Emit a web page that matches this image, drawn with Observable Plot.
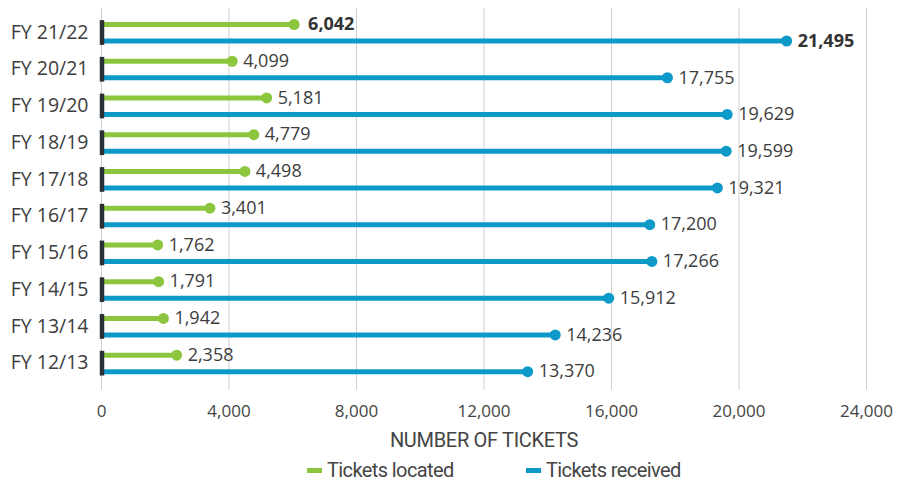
<!DOCTYPE html>
<html>
<head>
<meta charset="utf-8">
<script src="https://cdn.jsdelivr.net/npm/d3@7"></script>
<script src="https://cdn.jsdelivr.net/npm/@observablehq/plot@0.6"></script>
<style>
  body { margin: 0; background: #fff; }
  #chart svg { display: block; }
  .legend { position: relative; height: 30px; width: 902px; font-family: Roboto, sans-serif; letter-spacing: -0.6px; font-size: 20px; color: #454545; }
  .legend .item { position: absolute; top: 3px; display: flex; align-items: center; }
  .legend .sw { width: 15px; height: 5px; margin-right: 5px; }
</style>
</head>
<body>
<div id="chart"></div>
<script>
const years = ["FY 21/22","FY 20/21","FY 19/20","FY 18/19","FY 17/18","FY 16/17","FY 15/16","FY 14/15","FY 13/14","FY 12/13"];
const located = [6042,4099,5181,4779,4498,3401,1762,1791,1942,2358];
const received = [21495,17755,19629,19599,19321,17200,17266,15912,14236,13370];
const xTicks = [0,4000,8000,12000,16000,20000,24000];
const seriesNames = ["Tickets located", "Tickets received"];
const colors = ["#8cc63f", "#0e9ac8"];

const rows = years.map((y, i) => ({year: y, located: located[i], received: received[i], bold: i === 0}));
const fmt = d3.format(",");
const valueFont = "'Open Sans', sans-serif";
const condFont = "Roboto, sans-serif";

const W = 902, H = 455;
const plot = Plot.plot({
  width: W, height: H,
  marginLeft: 101, marginRight: 36, marginTop: 8, marginBottom: 65,
  x: {domain: [0, 24000]},
  y: {type: "band", domain: years, range: [13.63, 381.03], padding: 0, round: false},
  style: {fontFamily: valueFont, color: "#3d3d3d", background: "#fff"},
  marks: [
    Plot.gridX(xTicks, {stroke: "#cfcfcf", strokeOpacity: 1, strokeWidth: 1}),
    Plot.axisX({ticks: xTicks, tickFormat: fmt, tickSize: 0, tickPadding: 14, fontSize: 17, fill: "#444", label: null}),
    Plot.axisY({tickSize: 0, tickPadding: 13, fontSize: 19.5, fill: "#3d3d3d", label: null}),
    Plot.text(["NUMBER OF TICKETS"], {frameAnchor: "bottom", dy: 50, fontSize: 20, fontFamily: condFont, fill: "#444", lineAnchor: "middle"}),
    // located
    Plot.ruleY(rows, {y: "year", x1: 0, x2: "located", dy: -8, stroke: colors[0], strokeWidth: 5}),
    Plot.dot(rows, {y: "year", x: "located", dy: -8, r: 5.5, fill: colors[0]}),
    // received
    Plot.ruleY(rows, {y: "year", x1: 0, x2: "received", dy: 8.5, stroke: colors[1], strokeWidth: 5}),
    Plot.dot(rows, {y: "year", x: "received", dy: 8.5, r: 5.5, fill: colors[1]}),
    // start markers
    Plot.tickX(rows, {y: "year", x: 0, dx: 0.5, insetTop: 6.5, insetBottom: 5.5, stroke: "#2b3035", strokeWidth: 4.5}),
    // value labels
    Plot.text(rows.filter(d => !d.bold), {y: "year", x: "located", text: d => fmt(d.located), dy: -8, dx: 11, textAnchor: "start", fontSize: 18, fill: "#3d3d3d", lineAnchor: "middle"}),
    Plot.text(rows.filter(d => !d.bold), {y: "year", x: "received", text: d => fmt(d.received), dy: 8.5, dx: 11, textAnchor: "start", fontSize: 18, fill: "#3d3d3d", lineAnchor: "middle"}),
    Plot.text(rows.filter(d => d.bold), {y: "year", x: "located", text: d => fmt(d.located), dy: -8, dx: 14, textAnchor: "start", fontSize: 18, fontWeight: "bold", fill: "#333", lineAnchor: "middle"}),
    Plot.text(rows.filter(d => d.bold), {y: "year", x: "received", text: d => fmt(d.received), dy: 8.5, dx: 11, textAnchor: "start", fontSize: 18, fontWeight: "bold", fill: "#333", lineAnchor: "middle"})
  ]
});
d3.select(plot).selectAll('[font-family^="Roboto"]').style("letter-spacing", "-0.3px");
document.getElementById("chart").appendChild(plot);

const legend = document.createElement("div");
legend.className = "legend";
const lefts = [307, 526];
seriesNames.forEach((name, i) => {
  const item = document.createElement("div");
  item.className = "item";
  item.style.left = lefts[i] + "px";
  const sw = document.createElement("span");
  sw.className = "sw";
  sw.style.background = colors[i];
  const t = document.createElement("span");
  t.textContent = name;
  item.appendChild(sw);
  item.appendChild(t);
  legend.appendChild(item);
});
document.getElementById("chart").appendChild(legend);
</script>
</body>
</html>
